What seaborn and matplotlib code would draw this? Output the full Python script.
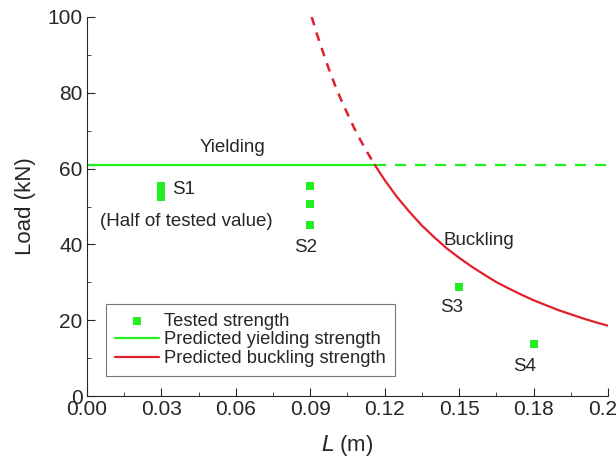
import numpy as np
import pandas as pd
import matplotlib
matplotlib.use("Agg")
import matplotlib.pyplot as plt
from matplotlib.ticker import MultipleLocator
import seaborn as sns

# tested strength (S1 is half of tested value)
test_L = [0.03, 0.03, 0.03, 0.09, 0.09, 0.09, 0.15, 0.18]
test_load = [52.5, 54.0, 55.5, 45.1, 50.7, 55.4, 28.8, 13.7]

# yielding strength
yield_load = 61.0
L_cross = 0.116

# buckling curve
buck_L = [0.0906, 0.0925, 0.095, 0.0975, 0.10, 0.1025, 0.105, 0.1075, 0.11,
          0.113, 0.116, 0.12, 0.125, 0.13, 0.135, 0.14, 0.145, 0.15, 0.155,
          0.16, 0.165, 0.17, 0.175, 0.18, 0.185, 0.19, 0.195, 0.20, 0.205, 0.21]
buck_load = [100.0, 95.9, 91.0, 86.3, 82.0, 78.1, 74.5, 71.0, 67.8,
             64.3, 61.0, 57.0, 52.5, 48.6, 45.0, 41.9, 39.0, 36.5, 34.2,
             32.1, 30.1, 28.4, 26.8, 25.3, 24.0, 22.7, 21.6, 20.5, 19.5, 18.6]

green = "#22ee22"
red = "#e0202c"

sns.set_style("ticks")
plt.rcParams['font.family'] = ['Liberation Sans', 'DejaVu Sans']

fig = plt.figure(figsize=(6.16, 4.7), dpi=100)
ax = fig.add_axes([0.141, 0.157, 0.846, 0.807])

buck = pd.DataFrame({"L": buck_L, "load": buck_load})
solid = buck[buck["L"] >= L_cross]
dashed = buck[buck["L"] <= L_cross]

ax.plot([0, L_cross], [yield_load, yield_load], color=green, lw=1.6,
        label="Predicted yielding strength")
ax.plot([L_cross, 0.21], [yield_load, yield_load], color=green, lw=1.6,
        ls=(0, (5, 4)))
sns.lineplot(data=solid, x="L", y="load", ax=ax, color=red, lw=1.6,
             label="Predicted buckling strength")
sns.lineplot(data=dashed, x="L", y="load", ax=ax, color=red, lw=1.8,
             ls=(0, (3.5, 3)))
sns.scatterplot(x=test_L, y=test_load, ax=ax, marker="s", color=green, s=40,
                linewidth=0, label="Tested strength", zorder=5)

ax.set_xlim(0, 0.21)
ax.set_ylim(0, 100)
ax.xaxis.set_major_locator(MultipleLocator(0.03))
ax.xaxis.set_minor_locator(MultipleLocator(0.015))
ax.yaxis.set_major_locator(MultipleLocator(20))
ax.yaxis.set_minor_locator(MultipleLocator(10))
ax.set_xticklabels([f"{v:.2f}" for v in ax.get_xticks()])
ax.tick_params(which="both", direction="in", labelsize=15, pad=3)
ax.tick_params(which="major", length=6)
ax.tick_params(which="minor", length=3)
sns.despine(ax=ax)

ax.set_xlabel(r"$\mathit{L}$ (m)", fontsize=16, labelpad=10)
ax.set_ylabel("Load (kN)", fontsize=16, labelpad=8)

fs = 13.5
ax.text(0.0588, 65.7, "Yielding", fontsize=fs, ha="center", va="center")
ax.text(0.0345, 54.4, "S1", fontsize=fs, ha="left", va="center")
ax.text(0.040, 46.0, "(Half of tested value)", fontsize=fs, ha="center", va="center")
ax.text(0.088, 39.3, "S2", fontsize=fs, ha="center", va="center")
ax.text(0.158, 41.0, "Buckling", fontsize=fs, ha="center", va="center")
ax.text(0.147, 23.5, "S3", fontsize=fs, ha="center", va="center")
ax.text(0.1765, 7.9, "S4", fontsize=fs, ha="center", va="center")

h, l = ax.get_legend_handles_labels()
order = [l.index("Tested strength"), l.index("Predicted yielding strength"),
         l.index("Predicted buckling strength")]
leg = ax.legend([h[i] for i in order], [l[i] for i in order],
                loc="lower left", bbox_to_anchor=(0.036, 0.053), fontsize=13.2,
                frameon=True, fancybox=False, edgecolor="#555555",
                handlelength=2.4, labelspacing=0.08, borderpad=0.5,
                handletextpad=0.3, borderaxespad=0)
leg.get_frame().set_linewidth(0.8)

fig.savefig("out.png", dpi=100)
